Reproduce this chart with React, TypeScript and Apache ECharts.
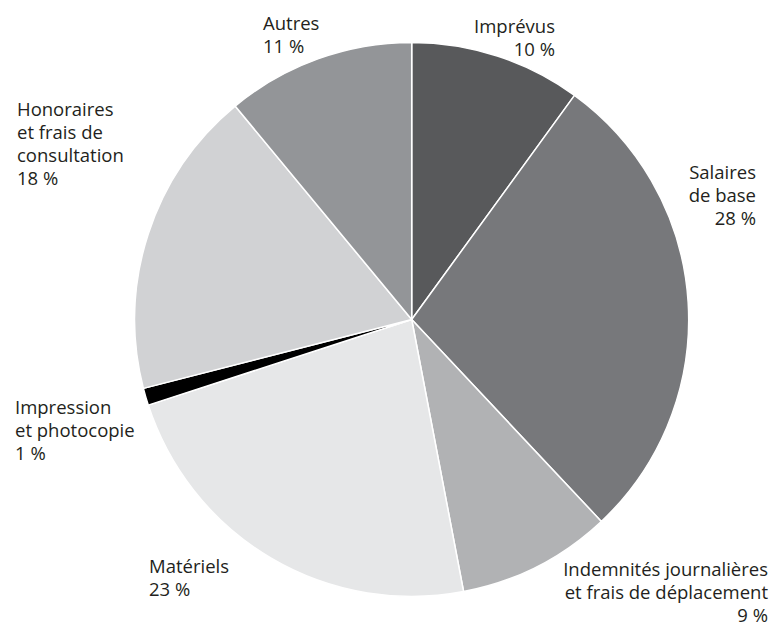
import React, { useEffect, useRef } from "react";
import * as echarts from "echarts";

const categories = [
  "Imprévus",
  "Salaires\nde base",
  "Indemnités journalières\net frais de déplacement",
  "Matériels",
  "Impression\net photocopie",
  "Honoraires\net frais de\nconsultation",
  "Autres",
];
const values = [10, 28, 9, 23, 1, 18, 11];
const colors = ["#58595b", "#77787b", "#b1b2b4", "#e6e7e8", "#000000", "#d1d2d4", "#939598"];

// label anchor layout: [x, y(top), align]
const labelLayout: [number, number, string][] = [
  [555, 14, "right"],
  [756, 160, "right"],
  [768, 557, "right"],
  [149, 554, "left"],
  [15, 395, "left"],
  [17, 97, "left"],
  [263, 11, "left"],
];

export default function App() {
  const ref = useRef<HTMLDivElement>(null);
  useEffect(() => {
    if (!ref.current) return;
    const chart = echarts.init(ref.current, null, { renderer: "svg" });
    const font = "Open Sans";
    chart.setOption({
      animation: false,
      backgroundColor: "#ffffff",
      series: [
        {
          type: "pie",
          center: [411.7, 319.5],
          radius: 277,
          startAngle: 90,
          clockwise: true,
          label: { show: false },
          labelLine: { show: false },
          emphasis: { disabled: true },
          itemStyle: { borderColor: "#ffffff", borderWidth: 1.5 },
          data: categories.map((c, i) => ({
            name: c,
            value: values[i],
            itemStyle: { color: colors[i] },
          })),
        },
      ],
      graphic: categories.map((c, i) => ({
        type: "text",
        x: labelLayout[i][0],
        y: labelLayout[i][1],
        style: {
          text: c + "\n" + values[i] + " %",
          align: labelLayout[i][2],
          verticalAlign: "top",
          fontFamily: font,
          fontSize: 18.5,
          lineHeight: 23,
          fill: "#231f20",
        },
      })),
    });
    return () => chart.dispose();
  }, []);
  return (
    <div
      ref={ref}
      style={{ position: "fixed", left: 0, top: 0, width: 773, height: 627 }}
    />
  );
}
